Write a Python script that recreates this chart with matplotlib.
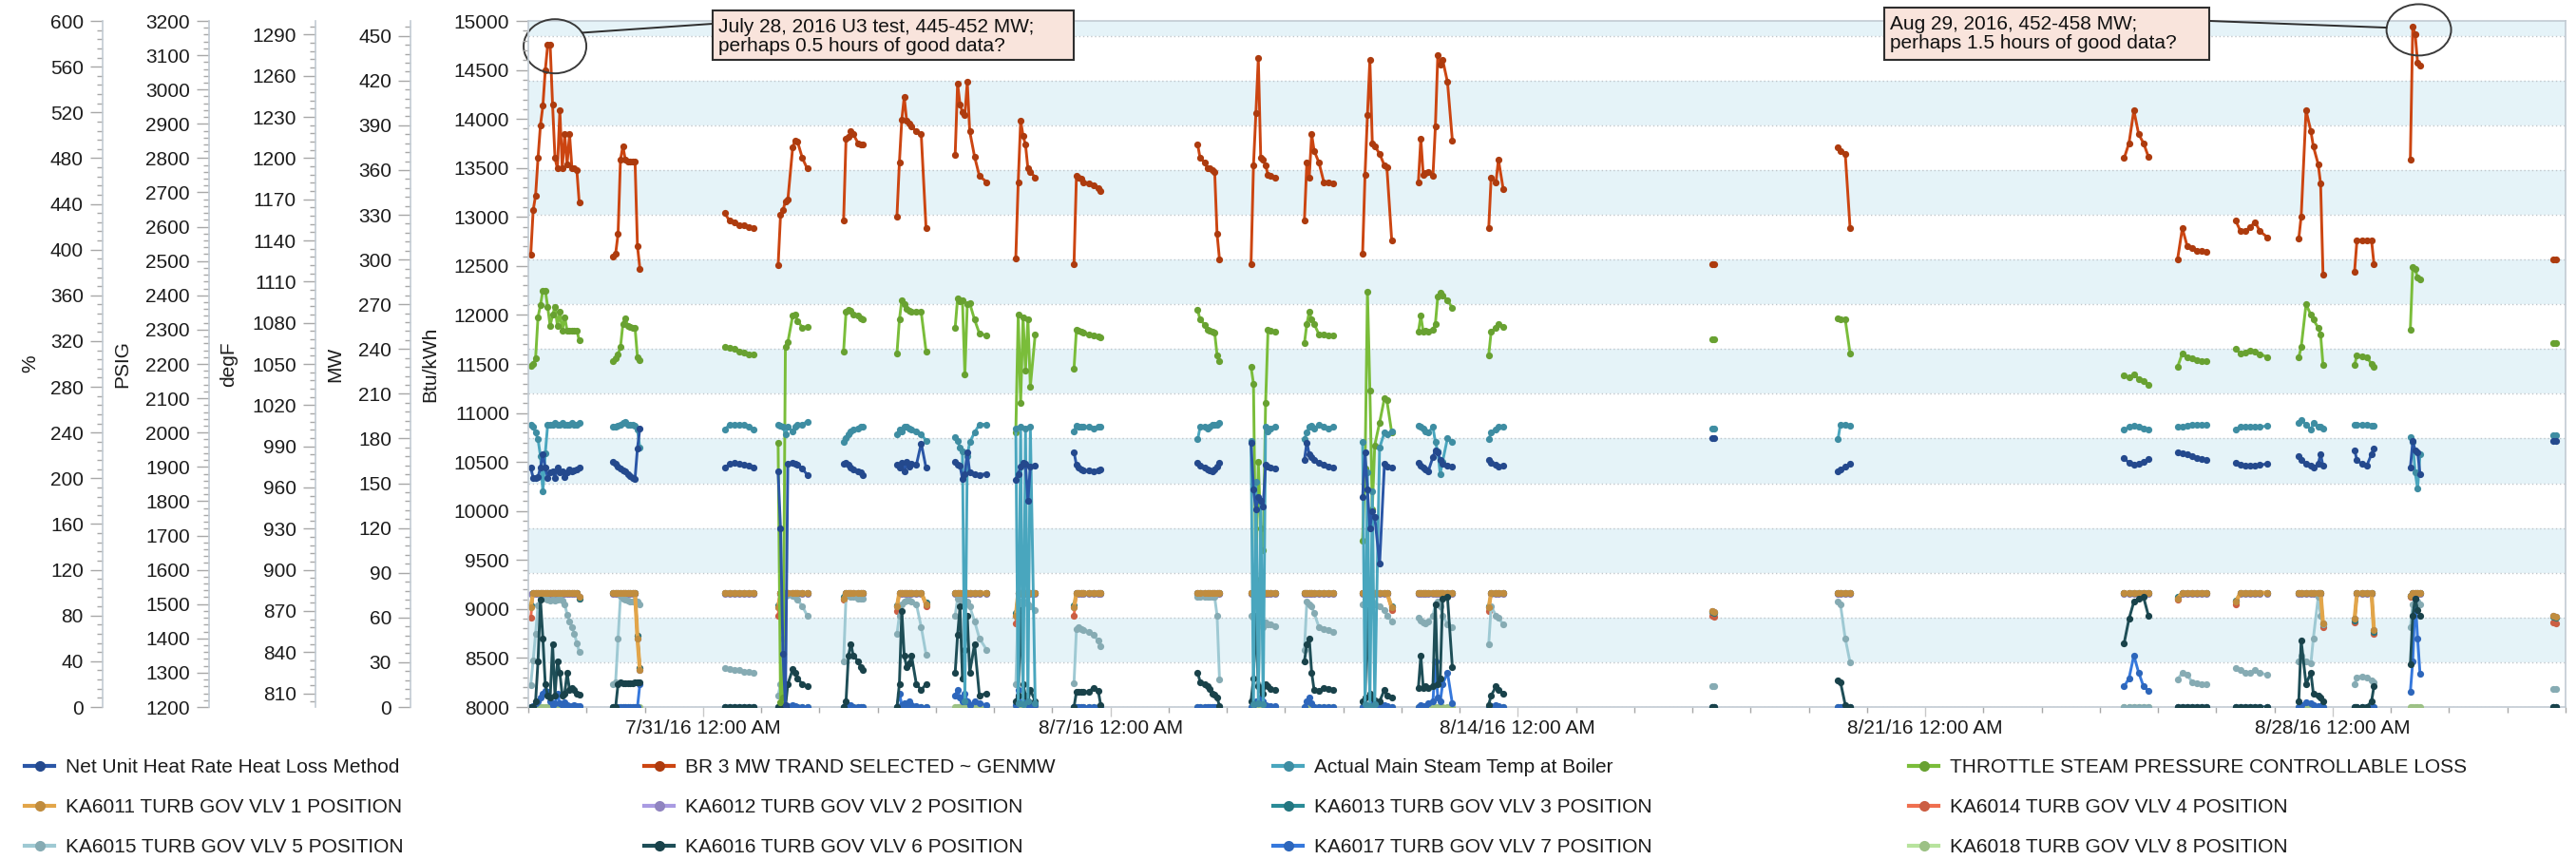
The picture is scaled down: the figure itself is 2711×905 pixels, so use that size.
import matplotlib

matplotlib.use("Agg")

import matplotlib.colors as mcolors
import matplotlib.dates as mdates
import matplotlib.patches
import matplotlib.pyplot as plt
import matplotlib.ticker as mticker
import numpy as np
from matplotlib.lines import Line2D

START = np.datetime64("2016-07-28T00:00")
END = np.datetime64("2016-09-01T00:00")

# hour offsets from START for each run of readings (gaps between runs = no data)
segment_hours = [
    [1, 2, 3, 4, 5, 6, 7, 8, 9, 10, 11, 12, 13, 14, 15, 16, 17, 18, 19, 20, 21],
    [35, 36, 37, 38, 39, 40, 41, 42, 43, 44, 45, 46],
    [81, 83, 85, 87, 89, 91, 93],
    [103, 104, 105, 106, 107, 109, 110, 111, 113, 115],
    [130, 131, 132, 133, 134, 136, 137, 138],
    [152, 153, 154, 155, 156, 157, 158, 160, 162, 164],
    [176, 177, 178, 179, 180, 181, 182, 184, 186, 189],
    [201, 202, 203, 204, 205, 206, 207, 209],
    [225, 226, 227, 228, 229, 231, 233, 235, 236],
    [276, 277, 279, 280, 281, 282, 283, 284, 285],
    [298, 299, 300, 301, 302, 303, 304, 305, 306, 308],
    [320, 321, 322, 323, 324, 326, 328, 330, 332],
    [344, 345, 346, 347, 348, 349, 351, 353, 354, 356],
    [367, 368, 369, 370, 371, 373, 374, 375, 376, 377, 379, 381],
    [396, 397, 399, 400, 402],
    [488, 489],
    [540, 541, 543, 545],
    [658, 660, 662, 664, 666, 668],
    [680, 682, 684, 686, 688, 690, 692],
    [704, 706, 708, 710, 712, 714, 717],
    [730, 731, 733, 735, 736, 738, 739, 740],
    [753, 754, 756, 758, 760, 761],
    [776, 777, 778, 779, 780],
    [835, 836],
]

# Btu/kWh
net_heat_rate = [
    [10440, 10340, 10340, 10350, 10440, 10580, 10440, 10340, 10390, 10400, 10340,
     10440, 10390, 10400, 10350, 10390, 10420, 10400, 10410, 10420, 10440],
    [10500, 10480, 10450, 10430, 10410, 10400, 10380, 10360, 10340, 10330, 10640, 10840],
    [10440, 10480, 10490, 10480, 10470, 10460, 10440],
    [10400, 9820, 8540, 8020, 10480, 10490, 10480, 10470, 10430, 10370],
    [10480, 10490, 10470, 10440, 10420, 10400, 10390, 10370],
    [10470, 10440, 10490, 10400, 10500, 10450, 10480, 10470, 10690, 10440],
    [10500, 10470, 10460, 10330, 10380, 10600, 10390, 10380, 10370, 10380],
    [10320, 10380, 10450, 10490, 10480, 10100, 10450, 10460],
    [10600, 10470, 10440, 10420, 10410, 10410, 10400, 10410, 10420],
    [10490, 10460, 10440, 10420, 10410, 10400, 10420, 10450, 10490],
    [10700, 10220, 10020, 10140, 10100, 10050, 10470, 10450, 10440, 10430],
    [10520, 10700, 10580, 10550, 10520, 10490, 10470, 10450, 10440],
    [10140, 10600, 10220, 9820, 10000, 9940, 9460, 10480, 10450, 10440],
    [10490, 10460, 10440, 10420, 10400, 10550, 10620, 10600, 10520, 10480, 10460, 10450],
    [10520, 10490, 10470, 10450, 10460],
    [10740, 10740],
    [10400, 10420, 10450, 10480],
    [10540, 10490, 10470, 10480, 10500, 10530],
    [10600, 10590, 10580, 10560, 10540, 10530, 10520],
    [10490, 10470, 10460, 10460, 10460, 10470, 10480],
    [10560, 10520, 10480, 10460, 10440, 10480, 10580, 10460],
    [10620, 10520, 10480, 10460, 10580, 10640],
    [10440, 10710, 10620, 10600, 10380],
    [10710, 10710],
]

# MW
gen_mw = [
    [303, 333, 343, 368, 390, 403, 427, 444, 444, 404, 368, 361, 400, 361, 384, 364,
     384, 361, 361, 360, 338],
    [302, 304, 317, 367, 376, 367, 366, 366, 366, 366, 309, 294],
    [331, 326, 325, 323, 323, 322, 321],
    [296, 330, 333, 339, 340, 375, 380, 379, 368, 361],
    [326, 381, 382, 386, 384, 378, 377, 377],
    [329, 365, 394, 409, 393, 391, 389, 386, 384, 321],
    [370, 418, 404, 399, 397, 419, 386, 369, 356, 352],
    [301, 352, 393, 383, 377, 361, 359, 355],
    [297, 356, 355, 354, 352, 351, 350, 348, 346],
    [377, 368, 365, 361, 361, 360, 359, 317, 300],
    [297, 363, 398, 435, 368, 367, 363, 357, 356, 355],
    [326, 365, 355, 384, 373, 365, 352, 352, 351],
    [304, 357, 397, 434, 378, 376, 371, 363, 362, 313],
    [352, 381, 357, 358, 359, 356, 389, 437, 431, 434, 419, 380],
    [321, 355, 352, 367, 347],
    [297, 297],
    [375, 373, 371, 321],
    [368, 378, 400, 384, 378, 369],
    [300, 321, 309, 308, 306, 306, 305],
    [326, 319, 319, 322, 325, 319, 315],
    [314, 329, 400, 386, 376, 364, 351, 290],
    [292, 313, 313, 313, 313, 297],
    [367, 456, 451, 432, 430],
    [300, 300],
]

# degF
main_steam_temp = [
    [1006, 1004, 1000, 995, 983, 957, 985, 1006, 1006, 1006, 1007, 1006, 1006, 1007,
     1006, 1006, 1006, 1007, 1006, 1006, 1007],
    [1004, 1004, 1005, 1006, 1007, 1008, 1006, 1006, 1006, 1005, 1002, 989],
    [1002, 1006, 1006, 1006, 1006, 1004, 1002],
    [1006, 1005, 1004, 999, 1004, 1001, 1004, 1006, 1006, 1008],
    [993, 996, 999, 1001, 1002, 1003, 1004, 1004],
    [999, 1002, 1001, 1004, 1004, 1003, 1002, 1001, 999, 994],
    [997, 994, 989, 986, 804, 983, 993, 1000, 1006, 1006],
    [1003, 803, 1004, 802, 1003, 804, 1004, 803],
    [1001, 1005, 1004, 1004, 1004, 1004, 1003, 1004, 1004],
    [995, 1004, 1004, 1003, 1004, 1006, 1006, 1006, 1007],
    [994, 802, 964, 803, 950, 802, 1004, 1001, 1003, 1004],
    [995, 1000, 1004, 1005, 1003, 1006, 1004, 1003, 1004],
    [993, 802, 971, 801, 957, 802, 989, 1000, 999, 1001],
    [1005, 1004, 1003, 1001, 1000, 1004, 993, 986, 970, 979, 996, 993],
    [995, 1000, 1002, 1004, 1004],
    [1003, 1003],
    [995, 1006, 1006, 1005],
    [1002, 1004, 1005, 1004, 1003, 1002],
    [1004, 1004, 1005, 1006, 1006, 1006, 1006],
    [1002, 1004, 1004, 1004, 1004, 1004, 1005],
    [1007, 1009, 1006, 1002, 1007, 1004, 1004, 1003],
    [1006, 1006, 1006, 1006, 1005, 1005],
    [997, 993, 971, 959, 984],
    [998, 998],
]

# PSIG
throttle_pressure = [
    [2194, 2200, 2217, 2337, 2371, 2414, 2414, 2366, 2311, 2343, 2366, 2311, 2351, 2297,
     2337, 2297, 2297, 2297, 2297, 2297, 2269],
    [2209, 2217, 2229, 2249, 2317, 2334, 2311, 2309, 2306, 2306, 2220, 2211],
    [2249, 2246, 2243, 2237, 2234, 2229, 2229],
    [1971, 1214, 1229, 2251, 2263, 2340, 2343, 2326, 2306, 2309],
    [2237, 2351, 2357, 2354, 2343, 2340, 2334, 2331],
    [2231, 2329, 2386, 2374, 2360, 2354, 2351, 2351, 2351, 2237],
    [2306, 2391, 2383, 2386, 2169, 2374, 2377, 2329, 2289, 2283],
    [2000, 2343, 2086, 2337, 2180, 2331, 2134, 2286],
    [2186, 2300, 2297, 2294, 2291, 2286, 2283, 2280, 2277],
    [2357, 2329, 2314, 2300, 2297, 2294, 2291, 2226, 2209],
    [2191, 2143, 1571, 1914, 1720, 1657, 2086, 2300, 2297, 2294],
    [2260, 2317, 2351, 2329, 2317, 2286, 2286, 2283, 2283],
    [1686, 1894, 2411, 2123, 1777, 1963, 2029, 2100, 2094, 2000],
    [2294, 2340, 2294, 2297, 2294, 2300, 2317, 2397, 2409, 2400, 2386, 2363],
    [2226, 2294, 2306, 2317, 2309],
    [2272, 2272],
    [2334, 2331, 2329, 2231],
    [2166, 2160, 2169, 2157, 2151, 2140],
    [2191, 2231, 2220, 2217, 2211, 2209, 2209],
    [2243, 2231, 2234, 2240, 2237, 2229, 2220],
    [2220, 2249, 2374, 2343, 2329, 2306, 2286, 2197],
    [2197, 2226, 2223, 2220, 2200, 2191],
    [2300, 2483, 2477, 2451, 2446],
    [2260, 2260],
]

# governor valve positions, %
vlv1 = [
    [87, 100, 100, 100, 100, 100, 100, 100, 100, 100, 100, 100, 100, 100, 100, 100, 100, 100, 100, 100, 96],
    [100, 100, 100, 100, 100, 100, 100, 100, 100, 100, 60, 32],
    [100, 100, 100, 100, 100, 100, 100],
    [87, 100, 100, 100, 100, 100, 100, 100, 100, 100],
    [95, 100, 100, 100, 100, 100, 100, 100],
    [88, 100, 100, 100, 100, 100, 100, 100, 100, 90],
    [100, 100, 100, 100, 100, 100, 100, 100, 100, 100],
    [80, 100, 100, 100, 100, 100, 100, 100],
    [87, 100, 100, 100, 100, 100, 100, 100, 100],
    [100, 100, 100, 100, 100, 100, 100, 100, 100],
    [100, 100, 100, 100, 100, 100, 100, 100, 100, 100],
    [100, 100, 100, 100, 100, 100, 100, 100, 100],
    [100, 100, 100, 100, 100, 100, 100, 100, 100, 87],
    [100, 100, 100, 100, 100, 100, 100, 100, 100, 100, 100, 100],
    [87, 100, 100, 100, 100],
    [84, 83],
    [100, 100, 100, 100],
    [100, 100, 100, 100, 100, 100],
    [95, 100, 100, 100, 100, 100, 100],
    [92, 100, 100, 100, 100, 100, 100],
    [100, 100, 100, 100, 100, 100, 100, 73],
    [77, 100, 100, 100, 100, 67],
    [97, 100, 100, 100, 100],
    [80, 79],
]
vlv2 = [
    [99, 99, 99, 99, 99, 99, 99, 99, 99, 99, 99, 99, 99, 99, 99, 99, 99, 99, 99, 99, 96],
    [99, 99, 99, 99, 99, 99, 99, 99, 99, 99, 60, 32],
    [99, 99, 99, 99, 99, 99, 99],
    [87, 99, 99, 99, 99, 99, 99, 99, 99, 99],
    [95, 99, 99, 99, 99, 99, 99, 99],
    [88, 99, 99, 99, 99, 99, 99, 99, 99, 90],
    [99, 99, 99, 99, 99, 99, 99, 99, 99, 99],
    [80, 99, 99, 99, 99, 99, 99, 99],
    [87, 99, 99, 99, 99, 99, 99, 99, 99],
    [99, 99, 99, 99, 99, 99, 99, 99, 99],
    [99, 99, 99, 99, 99, 99, 99, 99, 99, 99],
    [99, 99, 99, 99, 99, 99, 99, 99, 99],
    [99, 99, 99, 99, 99, 99, 99, 99, 99, 87],
    [99, 99, 99, 99, 99, 99, 99, 99, 99, 99, 99, 99],
    [87, 99, 99, 99, 99],
    [84, 83],
    [99, 99, 99, 99],
    [99, 99, 99, 99, 99, 99],
    [95, 99, 99, 99, 99, 99, 99],
    [92, 99, 99, 99, 99, 99, 99],
    [99, 99, 99, 99, 99, 99, 99, 73],
    [77, 99, 99, 99, 99, 67],
    [97, 99, 99, 99, 99],
    [80, 79],
]
vlv3 = [
    [89, 100, 100, 100, 100, 100, 100, 100, 100, 100, 100, 100, 100, 100, 100, 100, 100, 100, 100, 100, 95],
    [100, 100, 100, 100, 100, 100, 100, 100, 100, 100, 62, 34],
    [100, 100, 100, 100, 100, 100, 100],
    [89, 100, 100, 100, 100, 100, 100, 100, 100, 100],
    [96, 100, 100, 100, 100, 100, 100, 100],
    [89, 100, 100, 100, 100, 100, 100, 100, 100, 91],
    [100, 100, 100, 100, 100, 100, 100, 100, 100, 100],
    [82, 100, 100, 100, 100, 100, 100, 100],
    [89, 100, 100, 100, 100, 100, 100, 100, 100],
    [100, 100, 100, 100, 100, 100, 100, 100, 100],
    [100, 100, 100, 100, 100, 100, 100, 100, 100, 100],
    [100, 100, 100, 100, 100, 100, 100, 100, 100],
    [100, 100, 100, 100, 100, 100, 100, 100, 100, 88],
    [100, 100, 100, 100, 100, 100, 100, 100, 100, 100, 100, 100],
    [88, 100, 100, 100, 100],
    [83, 82],
    [100, 100, 100, 100],
    [100, 100, 100, 100, 100, 100],
    [96, 100, 100, 100, 100, 100, 100],
    [93, 100, 100, 100, 100, 100, 100],
    [100, 100, 100, 100, 100, 100, 100, 72],
    [76, 100, 100, 100, 100, 66],
    [97, 100, 100, 100, 100],
    [79, 78],
]
vlv4 = [
    [78, 100, 100, 100, 100, 100, 100, 100, 100, 100, 100, 100, 100, 100, 100, 100, 100, 100, 100, 100, 95],
    [100, 100, 100, 100, 100, 100, 100, 100, 100, 100, 62, 34],
    [100, 100, 100, 100, 100, 100, 100],
    [80, 100, 100, 100, 100, 100, 100, 100, 100, 100],
    [94, 100, 100, 100, 100, 100, 100, 100],
    [84, 100, 100, 100, 100, 100, 100, 100, 100, 88],
    [100, 100, 100, 100, 100, 100, 100, 100, 100, 100],
    [73, 100, 100, 100, 100, 100, 100, 100],
    [80, 100, 100, 100, 100, 100, 100, 100, 100],
    [100, 100, 100, 100, 100, 100, 100, 100, 100],
    [100, 100, 100, 100, 100, 100, 100, 100, 100, 100],
    [100, 100, 100, 100, 100, 100, 100, 100, 100],
    [100, 100, 100, 100, 100, 100, 100, 100, 100, 85],
    [100, 100, 100, 100, 100, 100, 100, 100, 100, 100, 100, 100],
    [84, 100, 100, 100, 100],
    [80, 79],
    [100, 100, 100, 100],
    [100, 100, 100, 100, 100, 100],
    [94, 100, 100, 100, 100, 100, 100],
    [90, 100, 100, 100, 100, 100, 100],
    [100, 100, 100, 100, 100, 100, 100, 70],
    [74, 100, 100, 100, 100, 64],
    [96, 100, 100, 100, 100],
    [74, 73],
]
vlv5 = [
    [19, 41, 64, 89, 95, 96, 95, 94, 93, 94, 93, 94, 95, 93, 90, 81, 75, 70, 64, 56, 48],
    [20, 22, 60, 97, 95, 94, 93, 92, 92, 93, 92, 90],
    [34, 33, 32, 32, 31, 31, 30],
    [10, 20, 60, 97, 98, 97, 96, 94, 88, 80],
    [40, 97, 97, 96, 96, 95, 95, 95],
    [64, 80, 90, 92, 93, 93, 92, 90, 70, 46],
    [80, 95, 94, 93, 90, 92, 88, 75, 60, 50],
    [20, 90, 92, 92, 91, 90, 88, 85],
    [21, 68, 70, 68, 67, 66, 63, 58, 53],
    [96, 96, 96, 96, 96, 96, 96, 80, 24],
    [80, 78, 76, 20, 75, 70, 74, 72, 72, 71],
    [50, 92, 90, 88, 82, 70, 68, 67, 66],
    [90, 95, 94, 93, 92, 90, 88, 85, 80, 75],
    [78, 76, 74, 73, 75, 80, 90, 92, 88, 80, 72, 70],
    [55, 88, 80, 78, 72],
    [18, 18],
    [92, 90, 60, 39],
    [0, 0, 0, 0, 0, 0],
    [24, 30, 28, 22, 21, 20, 20],
    [34, 32, 30, 30, 32, 30, 28],
    [40, 45, 40, 38, 60, 96, 80, 72],
    [20, 26, 27, 26, 23, 22],
    [70, 90, 95, 92, 90],
    [16, 16],
]
vlv6 = [
    [0, 0, 5, 40, 94, 60, 20, 10, 8, 55, 10, 40, 30, 10, 12, 30, 15, 17, 15, 12, 11],
    [0, 0, 20, 22, 21, 21, 21, 21, 21, 22, 22, 22],
    [0, 0, 0, 0, 0, 0, 0],
    [0, 0, 0, 0, 20, 33, 30, 25, 20, 18],
    [0, 5, 45, 55, 45, 40, 35, 32],
    [0, 20, 84, 45, 35, 38, 45, 20, 15, 20],
    [30, 63, 88, 25, 50, 80, 30, 55, 10, 12],
    [5, 10, 85, 20, 10, 5, 15, 5],
    [0, 13, 13, 13, 13, 13, 17, 14, 2],
    [30, 22, 20, 18, 16, 12, 11, 8, 1],
    [5, 25, 80, 18, 15, 12, 20, 18, 16, 15],
    [40, 55, 60, 30, 15, 14, 17, 16, 15],
    [5, 8, 85, 12, 8, 6, 5, 15, 10, 8],
    [17, 45, 17, 18, 17, 18, 90, 20, 25, 95, 96, 35],
    [2, 10, 18, 15, 12],
    [0, 0],
    [23, 22, 2, 0],
    [56, 77, 92, 95, 96, 80],
    [0, 0, 0, 0, 0, 0, 0],
    [0, 0, 0, 0, 0, 0, 0],
    [5, 58, 20, 30, 12, 10, 8, 5],
    [0, 0, 0, 0, 5, 18],
    [37, 80, 95, 85, 80],
    [0, 0],
]
vlv7 = [
    [0, 1, 3, 5, 8, 12, 14, 13, 5, 2, 3, 12, 3, 2, 4, 2, 1, 1, 2, 1, 1],
    [0, 0, 0, 0, 0, 0, 0, 0, 0, 0, 0, 20],
    [0, 0, 0, 0, 0, 0, 0],
    [0, 0, 0, 0, 1, 2, 1, 0, 0, 0],
    [0, 1, 2, 2, 0, 0, 0, 0],
    [0, 12, 2, 3, 1, 5, 2, 1, 0, 0],
    [10, 15, 8, 5, 12, 5, 2, 5, 3, 2],
    [2, 15, 3, 4, 8, 2, 1, 2],
    [0, 0, 0, 0, 0, 0, 0, 0, 0],
    [0, 0, 0, 0, 0, 0, 0, 0, 0],
    [0, 2, 5, 3, 8, 5, 2, 1, 1, 1],
    [0, 5, 8, 3, 0, 0, 0, 0, 0],
    [0, 2, 1, 0, 3, 1, 0, 2, 1, 0],
    [0, 2, 1, 1, 3, 5, 40, 8, 5, 20, 30, 3],
    [0, 1, 2, 1, 0],
    [0, 0],
    [0, 0, 0, 0],
    [18, 25, 45, 30, 18, 14],
    [0, 0, 0, 0, 0, 0, 0],
    [0, 0, 0, 0, 0, 0, 0],
    [0, 2, 4, 3, 2, 1, 1, 0],
    [0, 0, 0, 0, 0, 0],
    [13, 40, 95, 60, 29],
    [0, 0],
]
vlv8 = [
    [0, 0, 0, 0, 0, 0, 0, 0, 0, 0, 0, 0, 0, 0, 0, 0, 0, 0, 0, 0, 0],
    [0, 0, 0, 0, 0, 0, 0, 0, 0, 0, 0, 0],
    [0, 0, 0, 0, 0, 0, 0],
    [0, 0, 0, 0, 0, 0, 0, 0, 0, 0],
    [0, 0, 0, 0, 0, 0, 0, 0],
    [0, 0, 0, 0, 0, 0, 0, 0, 0, 0],
    [0, 0, 0, 0, 0, 0, 0, 0, 0, 0],
    [0, 0, 0, 0, 0, 0, 0, 0],
    [0, 0, 0, 0, 0, 0, 0, 0, 0],
    [0, 0, 0, 0, 0, 0, 0, 0, 0],
    [0, 0, 0, 0, 0, 0, 0, 0, 0, 0],
    [0, 0, 0, 0, 0, 0, 0, 0, 0],
    [0, 0, 0, 0, 0, 0, 0, 0, 0, 0],
    [0, 0, 0, 0, 0, 0, 0, 0, 0, 0, 0, 0],
    [0, 0, 0, 0, 0],
    [0, 0],
    [0, 0, 0, 0],
    [0, 0, 0, 0, 0, 0],
    [0, 0, 0, 0, 0, 0, 0],
    [0, 0, 0, 0, 0, 0, 0],
    [0, 0, 0, 0, 0, 0, 0, 0],
    [0, 0, 0, 0, 0, 0],
    [0, 0, 0, 0, 0],
    [0, 0],
]

notes = [
    "July 28, 2016 U3 test, 445-452 MW;\nperhaps 0.5 hours of good data?",
    "Aug 29, 2016, 452-458 MW;\nperhaps 1.5 hours of good data?",
]
note_centers = [("2016-07-28T11:00", 443), ("2016-08-29T11:30", 454)]

TEXT = "#1c1c1c"
SPINE = "#c2cbd3"
TICK = "#a8a8a8"
BAND = "#e5f3f8"
GRID = "#c0c6cb"

W, H = 2711, 905
L, R, T, B = 556, 2700, 22, 744


def fx(x):
    return x / W


def fy(y):
    return 1 - y / H


def series_xy(values):
    xs, ys = [], []
    for hours, vals in zip(segment_hours, values):
        xs.append(START + np.array(hours + [hours[-1] + 1], dtype="timedelta64[h]"))
        ys.append(np.array(vals + [np.nan], dtype=float))
    return np.concatenate(xs), np.concatenate(ys)


def darker(color, k=0.8):
    r, g, b = mcolors.to_rgb(color)
    return (r * k, g * k, b * k)


def style_y(a, lo, hi, step, label, offset_px, label_x_px):
    a.set_ylim(lo, hi)
    a.yaxis.set_major_locator(mticker.MultipleLocator(step))
    a.yaxis.set_minor_locator(mticker.AutoMinorLocator(5))
    a.yaxis.tick_left()
    a.yaxis.set_label_position("left")
    for name in ("top", "right", "bottom"):
        a.spines[name].set_visible(False)
    a.spines["left"].set_visible(True)
    a.spines["left"].set_position(("outward", offset_px * 0.72))
    a.spines["left"].set_color(SPINE)
    a.spines["left"].set_linewidth(1.2)
    a.tick_params(axis="y", which="major", length=9.4, width=1, color=TICK,
                  pad=5, labelsize=15, labelcolor=TEXT)
    a.tick_params(axis="y", which="minor", length=4.5, width=1, color=TICK)
    a.set_ylabel(label, fontsize=15, color=TEXT)
    a.yaxis.set_label_coords((label_x_px - L) / (R - L), 0.5)


plt.rcParams["font.family"] = ["Liberation Sans", "DejaVu Sans"]

fig = plt.figure(figsize=(W / 100, H / 100), dpi=100)
ax_mw = fig.add_axes([fx(L), fy(B), (R - L) / W, (B - T) / H])

ax_pct = ax_mw.twinx()
ax_psig = ax_mw.twinx()
ax_degf = ax_mw.twinx()
ax_btu = ax_mw.twinx()

# banding follows the MW grid (every other 30 MW step)
for k in range(1, 16, 2):
    ax_mw.axhspan(k * 30, (k + 1) * 30, color=BAND, lw=0, zorder=0)
ax_mw.yaxis.grid(True, which="major", color=GRID, linestyle=(0, (1, 2)), lw=1)
ax_mw.set_axisbelow(True)

series = [
    (ax_btu, net_heat_rate, "#2a56a6", "Net Unit Heat Rate Heat Loss Method"),
    (ax_mw, gen_mw, "#cc4511", "BR 3 MW TRAND SELECTED ~ GENMW"),
    (ax_degf, main_steam_temp, "#49a6be", "Actual Main Steam Temp at Boiler"),
    (ax_psig, throttle_pressure, "#7abd3a", "THROTTLE STEAM PRESSURE CONTROLLABLE LOSS"),
    (ax_pct, vlv1, "#e2a549", "KA6011 TURB GOV VLV 1 POSITION"),
    (ax_pct, vlv2, "#a99be2", "KA6012 TURB GOV VLV 2 POSITION"),
    (ax_pct, vlv3, "#2a8b97", "KA6013 TURB GOV VLV 3 POSITION"),
    (ax_pct, vlv4, "#ef6f4f", "KA6014 TURB GOV VLV 4 POSITION"),
    (ax_pct, vlv5, "#9ec9d3", "KA6015 TURB GOV VLV 5 POSITION"),
    (ax_pct, vlv6, "#1e4e57", "KA6016 TURB GOV VLV 6 POSITION"),
    (ax_pct, vlv7, "#3578dc", "KA6017 TURB GOV VLV 7 POSITION"),
    (ax_pct, vlv8, "#b7e39d", "KA6018 TURB GOV VLV 8 POSITION"),
]

# gold (VLV 1) sits above the hidden valves 2-4, 8 and the pale VLV 5
zorders = [2, 2, 2, 2, 2.75, 2.1, 2.3, 2.2, 2.7, 2.9, 2.8, 2.05]
widths = [2.1, 2.1, 2.1, 2.1, 3.0, 2.1, 2.1, 2.1, 2.1, 2.1, 2.1, 2.1]
for (a, vals, color, label), z, lw in zip(series, zorders, widths):
    x, y = series_xy(vals)
    a.plot(x, y, color=color, zorder=z, lw=lw, marker="o", ms=5.2, mew=0,
           mfc=darker(color, 0.85))

ax_mw.set_xlim(mdates.date2num(START), mdates.date2num(END))

style_y(ax_mw, 0, 460, 30, "MW", 124, 362)
style_y(ax_pct, 0, 600, 40, "%", 448, 41)
style_y(ax_psig, 1200, 3200, 100, "PSIG", 336, 138)
style_y(ax_degf, 800, 1300, 30, "degF", 224, 250)
style_y(ax_btu, 8000, 15000, 500, "Btu/kWh", 0, 462)

for name in ("top", "right", "bottom"):
    ax_mw.spines[name].set_visible(True)
    ax_mw.spines[name].set_color(SPINE)
    ax_mw.spines[name].set_linewidth(1.2)

ax_mw.xaxis.set_major_locator(mdates.WeekdayLocator(byweekday=mdates.SU))
ax_mw.xaxis.set_minor_locator(mdates.DayLocator())
ax_mw.xaxis.set_major_formatter(
    mticker.FuncFormatter(
        lambda v, pos: (lambda d: f"{d.month}/{d.day}/{d:%y} {d:%I:%M %p}")(mdates.num2date(v))
    )
)
ax_mw.tick_params(axis="x", which="major", length=7.2, width=1, color="#c8c8c8",
                  pad=2.5, labelsize=15, labelcolor=TEXT)
ax_mw.tick_params(axis="x", which="minor", length=4.3, width=1, color=TICK)

# call-outs
boxes = [(750, 11, 380, 52), (1983, 8, 342, 55)]
anchors = [(750, 25), (2325, 22)]
angles = [30, 175]
sizes = [(66, 57), (68, 54)]
for text, (when, mw), (bx, by, bw, bh), (axp, ayp), ang, (ew, eh) in zip(
        notes, note_centers, boxes, anchors, angles, sizes):
    fig.add_artist(matplotlib.patches.Rectangle(
        (fx(bx), fy(by + bh)), bw / W, bh / H, transform=fig.transFigure,
        facecolor="#f9e4dc", edgecolor="#2e2e2e", lw=1.5))
    fig.text(fx(bx + 6), fy(by + 8), text, ha="left", va="top", fontsize=15,
             color="#111111", linespacing=1.05)
    cx = mdates.date2num(np.datetime64(when))
    w_days = ew / ((R - L) / 35)
    h_mw = eh / ((B - T) / 460)
    ax_mw.add_patch(matplotlib.patches.Ellipse(
        (cx, mw), w_days, h_mw, fill=False, edgecolor="#3a3a3a", lw=1.4,
        clip_on=False, zorder=5))
    ex = cx + w_days / 2 * np.cos(np.radians(ang))
    ey = mw + h_mw / 2 * np.sin(np.radians(ang))
    fig.add_artist(matplotlib.patches.ConnectionPatch(
        xyA=(fx(axp), fy(ayp)), coordsA=fig.transFigure,
        xyB=(ex, ey), coordsB=ax_mw.transData, color="#2e2e2e", lw=1.4))

# legend: four columns, filled row by row
handles = [
    Line2D([0], [0], color=c, lw=3, marker="o", ms=8, mew=0, mfc=darker(c, 0.85))
    for _, _, c, _ in series
]
labels = [s[3] for s in series]
col_x = [26, 678, 1340, 2009]
for i, x in enumerate(col_x):
    idx = [i, i + 4, i + 8]
    fig.legend([handles[j] for j in idx], [labels[j] for j in idx],
               loc="upper left", bbox_to_anchor=(fx(x), fy(798)), frameon=False,
               borderpad=0, borderaxespad=0, handlelength=1.5, handletextpad=0.55,
               labelspacing=1.1, fontsize=15, labelcolor=TEXT)

fig.savefig("out.png", dpi=100)
